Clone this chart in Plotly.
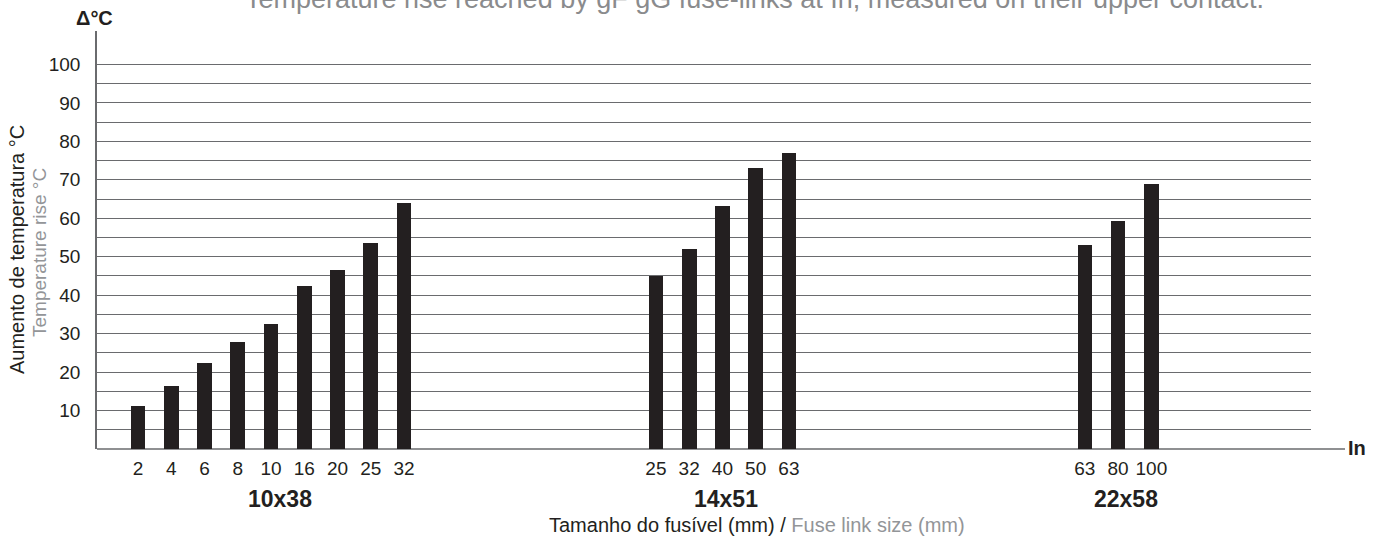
import plotly.graph_objects as go

# Fuse-link sizes and the rated currents (In) tested for each
sizes = ["10x38", "14x51", "22x58"]
ratings_10x38 = [2, 4, 6, 8, 10, 16, 20, 25, 32]
ratings_14x51 = [25, 32, 40, 50, 63]
ratings_22x58 = [63, 80, 100]

# Temperature rise (°C) on the upper contact at In
rise_10x38 = [11.3, 16.5, 22.3, 27.7, 32.6, 42.5, 46.6, 53.6, 63.9]
rise_14x51 = [45.1, 52.0, 63.1, 73.0, 77.1]
rise_22x58 = [53.1, 59.2, 68.9]

y_ticks = [10, 20, 30, 40, 50, 60, 70, 80, 90, 100]

ratings = [ratings_10x38, ratings_14x51, ratings_22x58]
rises = [rise_10x38, rise_14x51, rise_22x58]

# layout of the bar slots along the x axis (one slot per bar)
group_start = [1.233, 16.81, 29.71]
label_shift = [0.27, 0.1, 0.24]

W, H = 1383, 541
ML, MR, MT, MB = 97, 72, 31, 92
PW = W - ML - MR
PH = H - MT - MB
X_MAX = PW / 33.25
Y_MAX = 108.7

DARK = "#231f20"
GREY = "#939598"
LINE = "#6a6b6e"
FONT = "Liberation Sans, Arial, sans-serif"


def px_x(p):
    return (p - ML) / PW


def px_y(p):
    return (MT + PH - p) / PH


fig = go.Figure()

tickvals, ticktext = [], []
for g, (rt, rs) in enumerate(zip(ratings, rises)):
    xs = [group_start[g] + i for i in range(len(rt))]
    tickvals += xs
    ticktext += [str(r) for r in rt]
    fig.add_trace(go.Bar(
        x=xs, y=rs, width=0.44,
        marker=dict(color=DARK, line=dict(width=0)),
        showlegend=False, hoverinfo="x+y",
    ))
    center = (xs[0] + xs[-1]) / 2 + label_shift[g]
    fig.add_annotation(
        x=center, xref="x", y=px_y(499), yref="paper",
        text=f"<b>{sizes[g]}</b>", showarrow=False,
        font=dict(family=FONT, size=23, color=DARK),
        xanchor="center", yanchor="middle",
    )

grid_vals = list(range(5, 101, 5))
grid_text = [str(v) if v in y_ticks else "" for v in grid_vals]

fig.update_layout(
    width=W, height=H,
    margin=dict(l=ML, r=MR, t=MT, b=MB),
    plot_bgcolor="white", paper_bgcolor="white",
    bargap=0,
    font=dict(family=FONT, color=DARK),
    xaxis=dict(
        range=[0, X_MAX], tickmode="array", tickvals=tickvals, ticktext=ticktext,
        showgrid=False, zeroline=False, showline=False, ticks="",
        tickfont=dict(family=FONT, size=19, color=DARK),
        ticklabelstandoff=6, fixedrange=True,
    ),
    yaxis=dict(
        range=[0, Y_MAX], tickmode="array", tickvals=grid_vals, ticktext=grid_text,
        showgrid=True, gridcolor=LINE, gridwidth=1.4,
        zeroline=False, showline=True, linecolor=LINE, linewidth=1.5,
        ticks="", tickfont=dict(family=FONT, size=19, color=DARK),
        ticklabelstandoff=11, fixedrange=True,
    ),
)

# baseline, running past the grid up to the "In" label
fig.add_shape(type="line", xref="paper", yref="paper",
              x0=0, x1=px_x(1345), y0=0, y1=0,
              line=dict(color=LINE, width=1.5), layer="below")

fig.add_annotation(x=px_x(1346), xref="paper", y=px_y(448), yref="paper",
                   text="<b>In</b>", showarrow=False, xanchor="left", yanchor="middle",
                   font=dict(family=FONT, size=20, color=DARK))

fig.add_annotation(x=px_x(94), xref="paper", y=px_y(18), yref="paper",
                   text="<b>Δ°C</b>", showarrow=False, xanchor="center", yanchor="middle",
                   font=dict(family=FONT, size=20, color=DARK))

# axis titles (Portuguese / English)
fig.add_annotation(x=px_x(17), xref="paper", y=px_y(250), yref="paper",
                   text="Aumento de temperatura °C", textangle=-90, showarrow=False,
                   xanchor="center", yanchor="middle",
                   font=dict(family=FONT, size=20, color=DARK))
fig.add_annotation(x=px_x(39), xref="paper", y=px_y(253), yref="paper",
                   text="Temperature rise °C", textangle=-90, showarrow=False,
                   xanchor="center", yanchor="middle",
                   font=dict(family=FONT, size=19, color=GREY))

fig.add_annotation(x=px_x(757), xref="paper", y=px_y(525), yref="paper",
                   text=f"Tamanho do fusível (mm) / <span style='color:{GREY}'>Fuse link size (mm)</span>",
                   showarrow=False, xanchor="center", yanchor="middle",
                   font=dict(family=FONT, size=20, color=DARK))

fig.add_annotation(x=px_x(754), xref="paper", y=px_y(-1.5), yref="paper",
                   text="Temperature rise reached by gF gG fuse-links at In, measured on their upper contact.",
                   showarrow=False, xanchor="center", yanchor="middle",
                   font=dict(family=FONT, size=27, color="#8a8b8d"))

fig.write_html("out.html")
